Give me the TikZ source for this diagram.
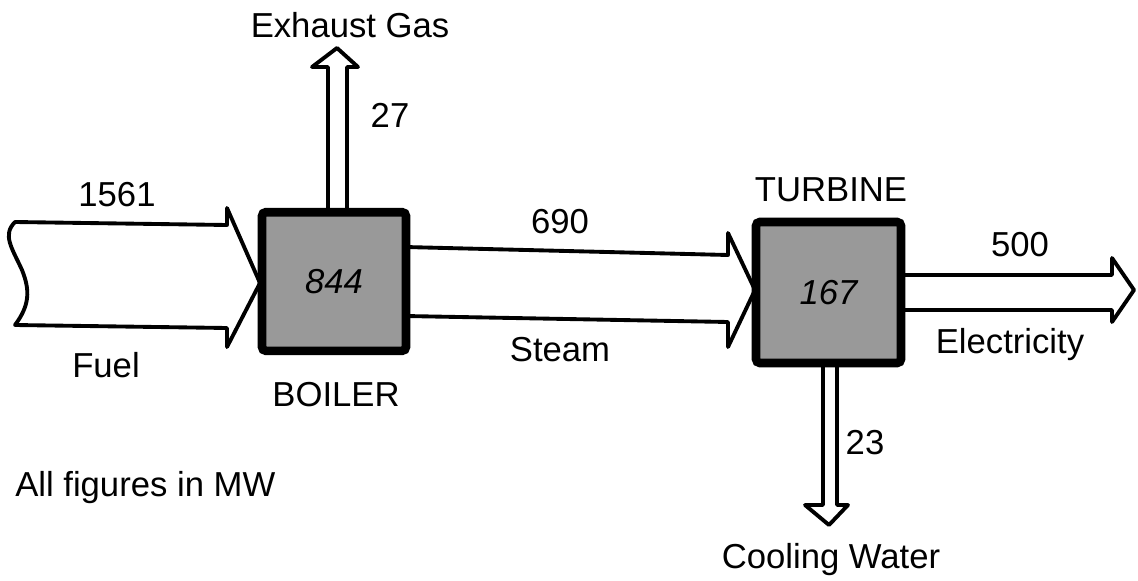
\documentclass[tikz,border=0pt]{standalone}
\usepackage{fontspec}
\setmainfont{Liberation Sans}
\begin{document}
\begin{tikzpicture}[x=0.75pt,y=-0.75pt,
  flow/.style={draw=black,line width=2.9pt,fill=white,line join=round},
  unit/.style={draw=black,line width=6.5pt,fill=black!40,rounded corners=3pt,inner sep=0pt,font=\fontsize{26}{30}\selectfont\itshape},
  lbl/.style={font=\fontsize{26}{30}\selectfont,inner sep=0pt}]
\useasboundingbox (0,0) rectangle (1138,581);
% flows
\draw[flow] (15,222) -- (227,225) -- (227,208) -- (260,283) -- (227,347) -- (227,328) -- (15,325)
  .. controls (30,305) and (30,290) .. (22,270) .. controls (12,248) and (2,235) .. (15,222) -- cycle;
\draw[flow] (405,247) -- (728,255) -- (728,233) -- (755,290) -- (728,347) -- (728,322) -- (405,316) -- cycle;
\draw[flow] (900,275) -- (1112,275) -- (1112,258) -- (1134,290) -- (1112,322) -- (1112,310) -- (900,310) -- cycle;
\draw[flow] (823,362) -- (823,505) -- (805,505) -- (829,525) -- (848,505) -- (837,505) -- (837,362) -- cycle;
\draw[flow] (328,214) -- (328,67) -- (312,67) -- (337,48) -- (358,67) -- (347,67) -- (347,214) -- cycle;
% units
\node[unit,minimum width=108pt,minimum height=104pt] (boiler) at (334,281.5) {844};
\node[unit,minimum width=108.75pt,minimum height=105.75pt] (turbine) at (828.5,292.5) {167};
% labels
\node[lbl] (exh) at (350,25) {Exhaust Gas};
\node[lbl] (v27) at (390,115) {27};
\node[lbl] (v1561) at (117,195) {1561};
\node[lbl] (fuel) at (106,365) {Fuel};
\node[lbl] (blr) at (336,395) {BOILER};
\node[lbl] (v690) at (560,222) {690};
\node[lbl] (steam) at (560,350) {Steam};
\node[lbl] (trb) at (831,190) {TURBINE};
\node[lbl] (v500) at (1020,245) {500};
\node[lbl] (elec) at (1010,345) {Electricity};
\node[lbl] (v23) at (865,443) {23};
\node[lbl] (cw) at (831,560) {Cooling Water};
\node[lbl,anchor=west] (note) at (15,488) {All figures in MW};
\end{tikzpicture}
\end{document}
